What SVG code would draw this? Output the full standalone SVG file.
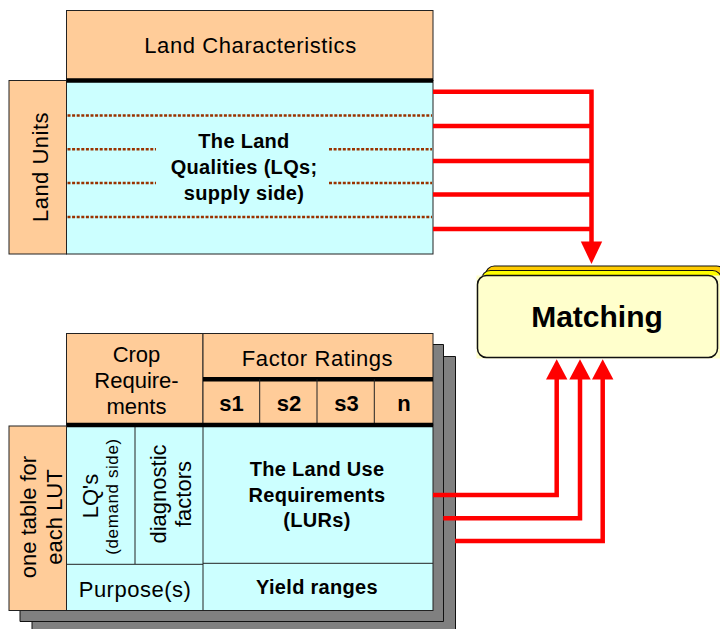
<svg xmlns="http://www.w3.org/2000/svg" width="720" height="629" viewBox="0 0 720 629">
<defs>
<style>
.or{fill:#FFCC99;stroke:#222;stroke-width:1}
.cy{fill:#CCFFFF;stroke:#222;stroke-width:1}
.sh{fill:#808080;stroke:#111;stroke-width:1}
.thick{stroke:#000;stroke-width:4.5}
.div{stroke:#222;stroke-width:1}
.dot{stroke:#993300;stroke-width:2.6;stroke-dasharray:3 1.6;fill:none}
.red{stroke:#FF0000;stroke-width:4.5;fill:none}
.ah{fill:#FF0000}
text{font-family:"Liberation Sans",Arial,sans-serif;fill:#000;text-anchor:middle}
.n{font-size:22px}
.b{font-size:20px;font-weight:bold;letter-spacing:0.3px}
.bs{font-size:22px;font-weight:bold}
.sm{font-size:17px;letter-spacing:0.6px}
</style>
</defs>

<g id="land-qualities-table">
<rect class="or" x="66.5" y="10.5" width="366.5" height="70"/>
<text class="n" x="250.5" y="53" letter-spacing="0.6">Land Characteristics</text>
<rect class="cy" x="66.5" y="80.5" width="366.5" height="173.5"/>
<rect class="or" x="9" y="80.5" width="57.5" height="173.5"/>
<text class="n" transform="translate(48.3,167) rotate(-90)" letter-spacing="0.5">Land Units</text>
<line class="thick" x1="66.5" y1="80.5" x2="433" y2="80.5"/>
<line class="dot" x1="67.5" y1="115.5" x2="432" y2="115.5"/>
<line class="dot" x1="67.5" y1="149.3" x2="156" y2="149.3"/>
<line class="dot" x1="329" y1="149.3" x2="432" y2="149.3"/>
<line class="dot" x1="67.5" y1="183" x2="156" y2="183"/>
<line class="dot" x1="329" y1="183" x2="432" y2="183"/>
<line class="dot" x1="67.5" y1="217" x2="432" y2="217"/>
<text class="b" x="244" y="148.3">The Land</text>
<text class="b" x="244" y="174.3">Qualities (LQs;</text>
<text class="b" x="244" y="200">supply side)</text>
</g>

<g id="crop-requirements-table">
<polygon class="sh" points="89.5,356.5 455.5,356.5 455.5,634 32,634 32,449 89.5,449"/>
<polygon class="sh" points="77.5,344.5 443.5,344.5 443.5,621.5 20,621.5 20,437 77.5,437"/>
<rect class="or" x="66.5" y="333.5" width="136.5" height="91.5"/>
<rect class="or" x="203" y="333.5" width="230" height="91.5"/>
<line class="thick" x1="203" y1="379.3" x2="433" y2="379.3"/>
<line class="div" x1="259.7" y1="379.3" x2="259.7" y2="425"/>
<line class="div" x1="317" y1="379.3" x2="317" y2="425"/>
<line class="div" x1="374.3" y1="379.3" x2="374.3" y2="425"/>
<rect class="cy" x="66.5" y="425" width="366.5" height="185.5"/>
<line class="div" x1="135" y1="425" x2="135" y2="564"/>
<line class="div" x1="203" y1="425" x2="203" y2="610.5"/>
<line class="div" x1="66.5" y1="564.3" x2="203" y2="564.3"/>
<line class="div" x1="203" y1="563.3" x2="433" y2="563.3"/>
<line class="thick" x1="66.5" y1="425" x2="433" y2="425"/>
<rect class="or" x="9" y="426" width="57.5" height="184.5"/>
<text class="n" x="136.5" y="361.7">Crop</text>
<text class="n" x="136.5" y="388.3">Require-</text>
<text class="n" x="136.5" y="414.3">ments</text>
<text class="n" x="317.5" y="365.7" letter-spacing="0.6">Factor Ratings</text>
<text class="bs" x="231.5" y="411">s1</text>
<text class="bs" x="289" y="411">s2</text>
<text class="bs" x="346.5" y="411">s3</text>
<text class="bs" x="404" y="411">n</text>
<text class="n" transform="translate(36,517) rotate(-90)">one table for</text>
<text class="n" transform="translate(61.7,517) rotate(-90)">each LUT</text>
<text class="n" transform="translate(97.5,496) rotate(-90)">LQ's</text>
<text class="sm" transform="translate(118.3,496.5) rotate(-90)">(demand side)</text>
<text class="n" transform="translate(166,494) rotate(-90)">diagnostic</text>
<text class="n" transform="translate(191,494) rotate(-90)">factors</text>
<text class="b" x="317" y="475.7">The Land Use</text>
<text class="b" x="317" y="501.7">Requirements</text>
<text class="b" x="317" y="526.7">(LURs)</text>
<text class="n" x="135" y="596.7" letter-spacing="0.5">Purpose(s)</text>
<text class="b" x="317" y="594">Yield ranges</text>
</g>

<g id="matching">
<rect x="485.5" y="266" width="240" height="82" rx="9" fill="#FFCC00" stroke="#111" stroke-width="1.2"/>
<rect x="481.5" y="270.5" width="240" height="82" rx="9" fill="#FFFF00" stroke="#111" stroke-width="1.2"/>
<rect x="476.5" y="275.5" width="243.5" height="83" fill="#FFFFCC"/>
<rect x="477.5" y="275.5" width="240" height="82" rx="9" fill="#FFFFCC" stroke="#111" stroke-width="1.5"/>
<text x="597" y="327" style="font-size:30px;font-weight:bold">Matching</text>
</g>

<g id="connectors">
<path class="red" d="M433 91.7H591.5M433 126H591.5M433 161H591.5M433 194.5H591.5M433 229H591.5M591.5 89.5V243"/>
<polygon class="ah" points="580.8,241.5 602.2,241.5 591.5,264"/>
<path class="red" d="M433 495H556.7V378M443.3 518.3H580V378M455 541H602.7V378"/>
<polygon class="ah" points="546,379.5 567.4,379.5 556.7,359.3"/>
<polygon class="ah" points="569.3,379.5 590.7,379.5 580,359.3"/>
<polygon class="ah" points="592,379.5 613.4,379.5 602.7,359.3"/>
</g>
</svg>
